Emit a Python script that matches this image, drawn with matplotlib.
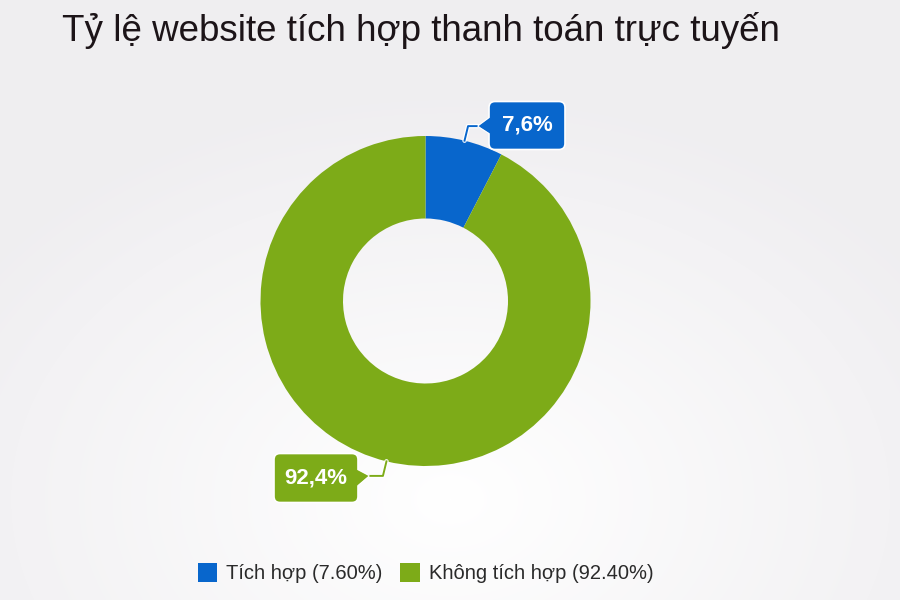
import numpy as np
import matplotlib
matplotlib.use("Agg")
import matplotlib.pyplot as plt
from matplotlib.patches import FancyBboxPatch, Polygon, Patch

# ---- data ----
categories = ["Tích hợp", "Không tích hợp"]
values = [7.6, 92.4]
label_texts = ["7,6%", "92,4%"]
legend_texts = ["Tích hợp (7.60%)", "Không tích hợp (92.40%)"]
colors = ["#0866cc", "#7dab18"]
title = "Tỷ lệ website tích hợp thanh toán trực tuyến"

W, H = 900, 600
fig = plt.figure(figsize=(9, 6), dpi=100)
ax = fig.add_axes([0, 0, 1, 1])
ax.set_xlim(0, W)
ax.set_ylim(0, H)
ax.set_aspect("equal")
ax.axis("off")

# background radial gradient
yy, xx = np.mgrid[0:H, 0:W]
d = np.sqrt(((xx - 450) / 560.0) ** 2 + ((yy - 100) / 400.0) ** 2)
d = np.clip(d, 0, 1)
top = np.array([0.94, 0.935, 0.945])
bot = np.array([1.0, 1.0, 1.0])
img = bot[None, None, :] * (1 - d[..., None]) + top[None, None, :] * d[..., None]
ax.imshow(img, extent=(0, W, 0, H), origin="lower", zorder=0, aspect="auto")

# donut
cx, cy, R = 425.5, 299.0, 165.0
wedges, _ = ax.pie(values, colors=colors, startangle=90, counterclock=False,
                   center=(cx, cy), radius=R, frame=True,
                   wedgeprops=dict(width=R * 0.5, edgecolor="none", linewidth=0))
ax.set_xlim(0, W)
ax.set_ylim(0, H)
ax.axis("off")

# callout labels
box_specs = [
    # (box center x, box center y, box w, box h, side)
    (527, 600 - 125.5, 76, 48, "right"),
    (316, 600 - 478, 84, 49, "left"),
]
for w, txt, col, (bx, by, bw, bh, side) in zip(wedges, label_texts, colors, box_specs):
    ang = np.deg2rad((w.theta1 + w.theta2) / 2)
    ex, ey = cx + R * np.cos(ang), cy + R * np.sin(ang)
    ox, oy = cx + (R + 15) * np.cos(ang), cy + (R + 15) * np.sin(ang)
    if side == "right":
        tipx = bx - bw / 2 - 11
    else:
        tipx = bx + bw / 2 + 11
    ax.plot([ex, ox, tipx], [ey, oy, oy], color="white",
            lw=3.2, zorder=3, solid_capstyle="round")
    ax.plot([ex, ox, tipx], [ey, oy, oy], color=col, lw=1.4, zorder=4)
    # tail triangle
    if side == "right":
        tri = [(tipx, oy), (bx - bw / 2 + 2, by + 9), (bx - bw / 2 + 2, by - 9)]
    else:
        tri = [(tipx, oy), (bx + bw / 2 - 2, by + 9), (bx + bw / 2 - 2, by - 9)]
    ax.add_patch(Polygon(tri, closed=True, fc=col, ec="white", lw=1.2, zorder=5))
    ax.add_patch(FancyBboxPatch((bx - bw / 2, by - bh / 2), bw, bh,
                                boxstyle="round,pad=0,rounding_size=6",
                                fc=col, ec="white", lw=1.2, zorder=5))
    ax.add_patch(Polygon([(p[0] + (0.6 if side == "right" else -0.6), p[1]) for p in tri],
                         closed=True, fc=col, ec="none", zorder=6))
    ax.text(bx, by, txt, color="white", fontsize=16, fontweight="bold",
            family=["Liberation Sans", "DejaVu Sans"],
            ha="center", va="center", zorder=7)

# title
fig.text(62 / W, 1 - 41 / H, title, fontsize=26.5, color="#1c1418",
         family=["Liberation Sans", "DejaVu Sans"], ha="left", va="baseline")

# legend
handles = [Patch(facecolor=c, edgecolor="none") for c in colors]
leg = fig.legend(handles, legend_texts, loc="center", bbox_to_anchor=(425.5 / W, 1 - 573 / H),
                 ncol=2, frameon=False, handlelength=0.95, handleheight=1.05,
                 handletextpad=0.45, columnspacing=0.9,
                 prop=dict(family=["Liberation Sans", "DejaVu Sans"], size=14.5))
for t in leg.get_texts():
    t.set_color("#2a2a2a")

fig.savefig("out.png", dpi=100)
